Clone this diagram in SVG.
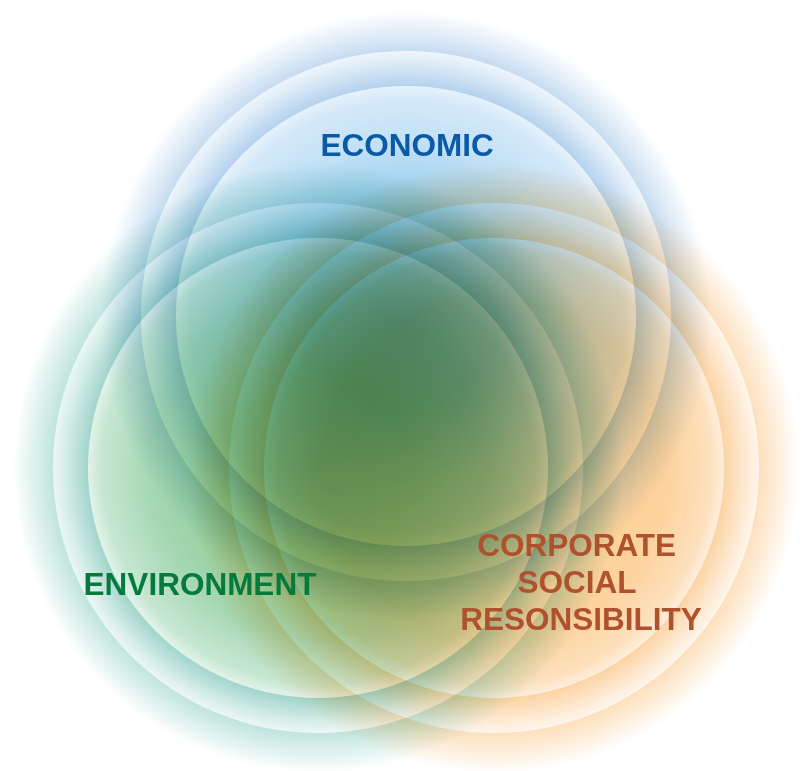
<svg xmlns="http://www.w3.org/2000/svg" width="810" height="771" viewBox="0 0 810 771">
  <style>
    .set { mix-blend-mode: multiply; }
    .lbl { font-family: "Liberation Sans", Arial, sans-serif; font-weight: bold; font-size: 31.5px; text-anchor: middle; }
  </style>
  <defs>
    <!-- Economic (blue) -->
    <radialGradient id="ecoGlow">
      <stop offset="0.868" stop-color="#c6dcf1"/>
      <stop offset="0.93" stop-color="#e2edf8"/>
      <stop offset="1" stop-color="#ffffff"/>
    </radialGradient>
    <radialGradient id="ecoBand">
      <stop offset="0.868" stop-color="#b4d2ee"/>
      <stop offset="0.96" stop-color="#dfecf8"/>
      <stop offset="1" stop-color="#eef5fc"/>
    </radialGradient>
    <radialGradient id="ecoCore">
      <stop offset="0" stop-color="#78bce6"/>
      <stop offset="0.4" stop-color="#8cc8ec"/>
      <stop offset="0.74" stop-color="#c0e0f6"/>
      <stop offset="0.94" stop-color="#d4e9f8"/>
      <stop offset="1" stop-color="#e6f2fb"/>
    </radialGradient>
    <!-- Environment (green) -->
    <radialGradient id="envGlow">
      <stop offset="0.868" stop-color="#c0e4de"/>
      <stop offset="0.93" stop-color="#ddf1ed"/>
      <stop offset="1" stop-color="#ffffff"/>
    </radialGradient>
    <radialGradient id="envBand">
      <stop offset="0.868" stop-color="#a2d5cc"/>
      <stop offset="0.96" stop-color="#d8eee9"/>
      <stop offset="1" stop-color="#ecf7f4"/>
    </radialGradient>
    <radialGradient id="envCore">
      <stop offset="0" stop-color="#7cc088"/>
      <stop offset="0.4" stop-color="#8ccc90"/>
      <stop offset="0.74" stop-color="#a6d8b4"/>
      <stop offset="0.94" stop-color="#c6e7d2"/>
      <stop offset="1" stop-color="#e2f3e9"/>
    </radialGradient>
    <!-- CSR (orange) -->
    <radialGradient id="csrGlow">
      <stop offset="0.868" stop-color="#fde0bc"/>
      <stop offset="0.93" stop-color="#feeedb"/>
      <stop offset="1" stop-color="#ffffff"/>
    </radialGradient>
    <radialGradient id="csrBand">
      <stop offset="0.868" stop-color="#fcd4a4"/>
      <stop offset="0.96" stop-color="#feecd8"/>
      <stop offset="1" stop-color="#fff6ec"/>
    </radialGradient>
    <radialGradient id="csrCore">
      <stop offset="0" stop-color="#ffd096"/>
      <stop offset="0.4" stop-color="#ffd199"/>
      <stop offset="0.74" stop-color="#fdd29c"/>
      <stop offset="0.94" stop-color="#fde0bc"/>
      <stop offset="1" stop-color="#feeedc"/>
    </radialGradient>
  </defs>

  <rect width="810" height="771" fill="#ffffff"/>

  <g id="economic" class="set">
    <circle cx="406" cy="316" r="305" fill="url(#ecoGlow)"/>
    <circle cx="406" cy="316" r="265" fill="url(#ecoBand)"/>
    <circle cx="406" cy="316" r="230" fill="url(#ecoCore)"/>
  </g>
  <g id="environment" class="set">
    <circle cx="318" cy="468" r="305" fill="url(#envGlow)"/>
    <circle cx="318" cy="468" r="265" fill="url(#envBand)"/>
    <circle cx="318" cy="468" r="230" fill="url(#envCore)"/>
  </g>
  <g id="csr" class="set">
    <circle cx="494" cy="468" r="305" fill="url(#csrGlow)"/>
    <circle cx="494" cy="468" r="265" fill="url(#csrBand)"/>
    <circle cx="494" cy="468" r="230" fill="url(#csrCore)"/>
  </g>

  <g id="labels">
    <text id="label-economic" class="lbl" x="407" y="156" fill="#0a5aa8">ECONOMIC</text>
    <text id="label-environment" class="lbl" x="200" y="595" fill="#067a3c">ENVIRONMENT</text>
    <text id="label-csr" class="lbl" fill="#b0512e">
      <tspan x="581" y="556">CORPORATE</tspan>
      <tspan x="581" y="593">SOCIAL</tspan>
      <tspan x="581" y="630">RESONSIBILITY</tspan>
    </text>
  </g>
</svg>
